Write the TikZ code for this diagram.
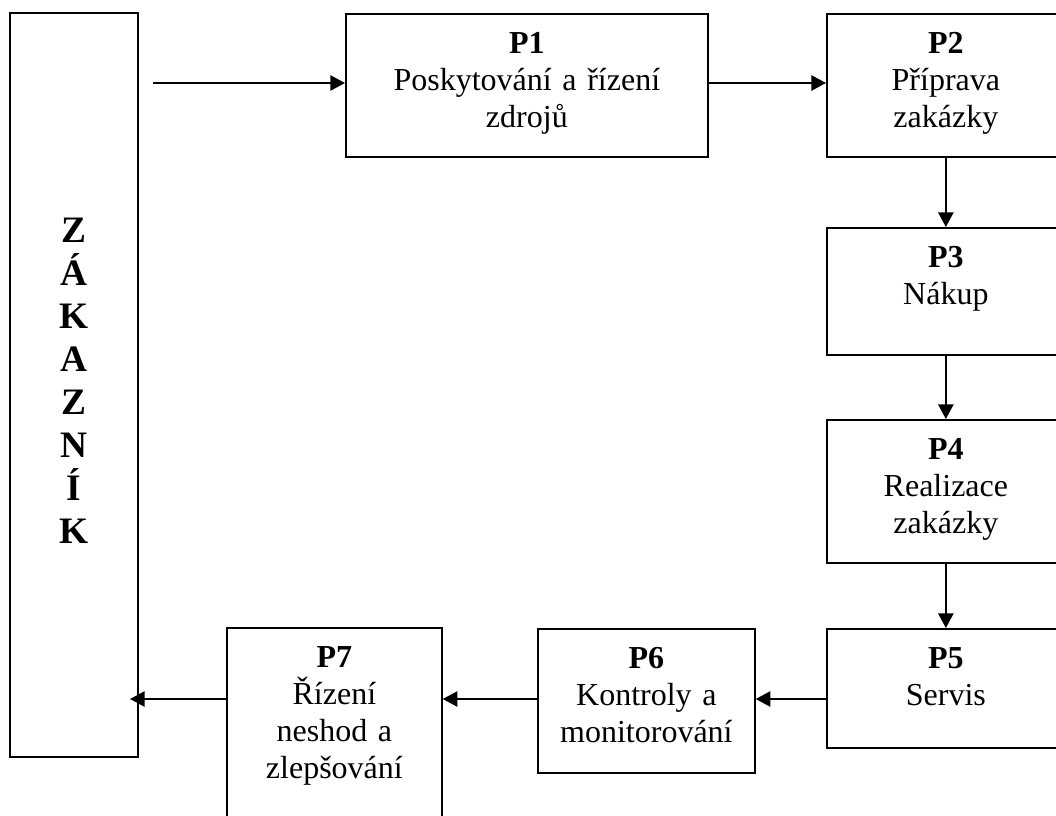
\documentclass[tikz,border=0pt]{standalone}
\usepackage{fontspec}
\setmainfont{Liberation Serif}
\usetikzlibrary{arrows.meta,calc}
\begin{document}
\begin{tikzpicture}[x=0.75pt,y=-0.75pt,
  box/.style={draw, line width=1.3pt, rectangle, inner sep=0pt, anchor=north west,
    align=center, font=\fontsize{24}{27.75}\selectfont, text height=30pt},
  flow/.style={line width=1.2pt, -{Triangle[length=11pt,width=11.5pt]}}]
\useasboundingbox (0,0) rectangle (1056,816);

% customer column
\node[box, text width=96pt, text height=172.5pt, text depth=385.5pt,
  font=\fontsize{28}{32.25}\selectfont\bfseries] (Z) at (9,12)
  {Z\\Á\\K\\A\\Z\\N\\Í\\K};

% process boxes
\node[box, text width=271.5pt, text depth=77.25pt] (P1) at (345,13)
  {\textbf{P1}\\Poskytování a řízení\\zdrojů};
\node[box, text width=178.5pt, text depth=77.25pt] (P2) at (826,13)
  {\textbf{P2}\\Příprava\\zakázky};
\node[box, text width=178.5pt, text depth=65.25pt] (P3) at (826,227)
  {\textbf{P3}\\Nákup};
\node[box, text width=178.5pt, text depth=77.25pt] (P4) at (826,419)
  {\textbf{P4}\\Realizace\\zakázky};
\node[box, text width=178.5pt, text depth=59.25pt] (P5) at (826,628)
  {\textbf{P5}\\Servis};
\node[box, text width=162.75pt, text depth=78pt] (P6) at (537,628)
  {\textbf{P6}\\Kontroly a\\monitorování};
\node[box, text width=161.25pt, text depth=126pt] (P7) at (226,627)
  {\textbf{P7}\\Řízení\\neshod a\\zlepšování};

% connector ends, the top row and the return row
\coordinate (zout) at (153,83);
\coordinate (zin) at (130,699);
\coordinate (row) at (0,699);

\draw[flow] (zout) -- (zout -| P1.west);
\draw[flow] (P1.east |- zout) -- (P2.west |- zout);
\draw[flow] (P2.south) -- (P3.north);
\draw[flow] (P3.south) -- (P4.north);
\draw[flow] (P4.south) -- (P5.north);
\draw[flow] (P5.west |- row) -- (P6.east |- row);
\draw[flow] (P6.west |- row) -- (P7.east |- row);
\draw[flow] (P7.west |- row) -- (zin);
\end{tikzpicture}
\end{document}
